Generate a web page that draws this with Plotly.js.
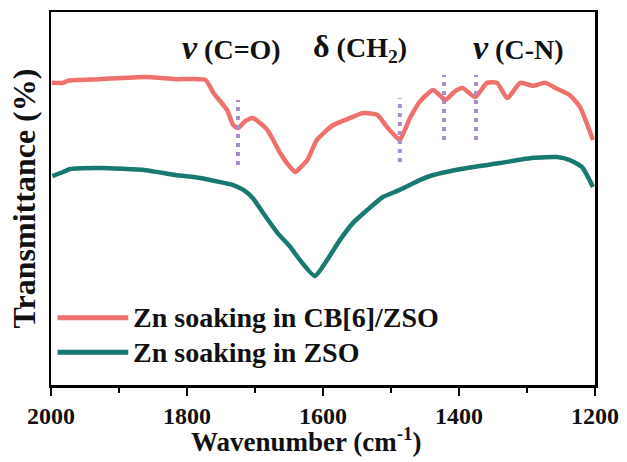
<!DOCTYPE html>
<html>
<head>
<meta charset="utf-8">
<script src="https://cdn.plot.ly/plotly-3.0.1.min.js"></script>
<style>
  html, body { margin: 0; padding: 0; background: #fff; }
  #chart { width: 627px; height: 462px; }
</style>
</head>
<body>
<div id="chart"></div>
<script>
// FTIR spectra of Zn foil after soaking (wavenumber in cm^-1, transmittance in a.u.)
const wnCB6 = [1999, 1982, 1975, 1928, 1861, 1817, 1773, 1761, 1741, 1732, 1725, 1714, 1703,
  1682, 1663, 1651, 1641, 1631, 1623, 1609, 1585, 1560, 1541, 1520, 1506, 1494, 1487, 1472,
  1457, 1438, 1420, 1407, 1395, 1376, 1359, 1344, 1329, 1310, 1291, 1273, 1256, 1237, 1222, 1203];
const tCB6 = [81.0, 81.0, 81.6, 82.0, 82.6, 82.0, 81.8, 78.3, 73.7, 69.7, 68.9, 70.8, 71.6,
  68.4, 62.2, 59.0, 57.1, 58.7, 60.3, 65.7, 69.7, 71.6, 72.9, 72.4, 69.2, 66.8, 65.7, 71.6,
  76.1, 79.1, 76.4, 78.6, 79.6, 77.2, 81.0, 81.0, 76.9, 81.0, 80.2, 81.0, 79.4, 77.7, 74.5, 65.7];

const wnZSO = [1998, 1982, 1972, 1928, 1861, 1817, 1781, 1751, 1732, 1717, 1703, 1688, 1667,
  1648, 1634, 1612, 1594, 1575, 1556, 1535, 1512, 1487, 1457, 1438, 1388, 1340, 1291, 1256,
  1237, 1219, 1203];
const tZSO = [56.0, 57.1, 57.9, 58.2, 57.6, 56.3, 55.5, 54.4, 53.6, 52.3, 50.1, 46.1, 40.8,
  37.0, 33.5, 29.2, 33.5, 38.9, 43.4, 46.9, 50.4, 52.3, 55.0, 56.3, 58.2, 59.5, 60.9, 61.1,
  60.3, 58.4, 53.1];

// Marked band positions (dotted guides) and their vertical extents
const bandWn = [1725, 1487, 1422, 1375];
const bandLow = [59.0, 59.8, 65.7, 65.7];
const bandHigh = [76.4, 76.9, 83.1, 83.1];

const seriesNames = ['Zn soaking in CB[6]/ZSO', 'Zn soaking in ZSO'];
const seriesColors = ['#ef716d', '#17796f'];

const serif = 'Liberation Serif, Times New Roman, serif';

const traces = [
  { x: wnCB6, y: tCB6, name: seriesNames[0], type: 'scatter', mode: 'lines',
    line: { color: seriesColors[0], width: 4.5, shape: 'spline', smoothing: 0.5 }, showlegend: false },
  { x: wnZSO, y: tZSO, name: seriesNames[1], type: 'scatter', mode: 'lines',
    line: { color: seriesColors[1], width: 4.5, shape: 'spline', smoothing: 0.5 }, showlegend: false }
];

const shapes = bandWn.map((w, i) => ({
  type: 'line', xref: 'x', yref: 'y', x0: w, x1: w, y0: bandLow[i], y1: bandHigh[i],
  line: { color: '#a88ccd', width: 4, dash: '4px,5px' }
}));

// Legend keys drawn as long line samples
const legendY = [0.18, 0.088];
legendY.forEach((ly, i) => {
  shapes.push({ type: 'line', xref: 'paper', yref: 'paper', x0: 0.012, x1: 0.142, y0: ly, y1: ly,
    line: { color: seriesColors[i], width: 5 } });
});

const annotations = legendY.map((ly, i) => ({
  xref: 'paper', yref: 'paper', x: 0.147, y: ly, xanchor: 'left', yanchor: 'middle',
  text: '<b>' + seriesNames[i] + '</b>', showarrow: false,
  font: { family: serif, size: 28, color: '#111' }
}));

const bandLabels = [
  { x: 1735, text: '<i><b><span style="font-size:34px">ν</span></b></i><b> (C=O)</b>' },
  { x: 1546, text: '<b><span style="font-size:32px">δ</span> (CH<sub>2</sub>)</b>' },
  { x: 1313, text: '<i><b><span style="font-size:34px">ν</span></b></i><b> (C-N)</b>' }
];
bandLabels.forEach(b => annotations.push({
  xref: 'x', yref: 'y', x: b.x, y: 90.5, xanchor: 'center', yanchor: 'middle',
  text: b.text, showarrow: false, font: { family: serif, size: 28, color: '#111' }
}));

// x-axis title
annotations.push({
  xref: 'paper', yref: 'paper', x: 0.469, y: -0.148, xanchor: 'center', yanchor: 'middle',
  text: '<b>Wavenumber (cm<sup>-1</sup>)</b>', showarrow: false,
  font: { family: serif, size: 27, color: '#111' }
});

const layout = {
  width: 627, height: 462,
  margin: { l: 51, r: 32, t: 12, b: 77 },
  paper_bgcolor: '#fff', plot_bgcolor: '#fff',
  xaxis: {
    range: [2000, 1200], dtick: 200, tick0: 1200,
    showgrid: false, zeroline: false,
    showline: true, mirror: true, linecolor: '#000', linewidth: 2.5,
    ticks: 'outside', ticklen: 8, tickwidth: 2.5, tickcolor: '#000',
    minor: { dtick: 100, ticks: 'outside', ticklen: 5, tickwidth: 2, tickcolor: '#000', showgrid: false },
    tickfont: { family: serif, size: 24, color: '#111', weight: 'bold' }
  },
  yaxis: {
    range: [0, 100], showgrid: false, zeroline: false,
    showline: true, mirror: true, linecolor: '#000', linewidth: 2.5,
    ticks: '', showticklabels: false,
    title: { text: '<b>Transmittance (%)</b>', font: { family: serif, size: 32, color: '#111' }, standoff: 4 }
  },
  shapes: shapes,
  annotations: annotations
};

Plotly.newPlot('chart', traces, layout, { displayModeBar: false, staticPlot: true });
</script>
</body>
</html>
